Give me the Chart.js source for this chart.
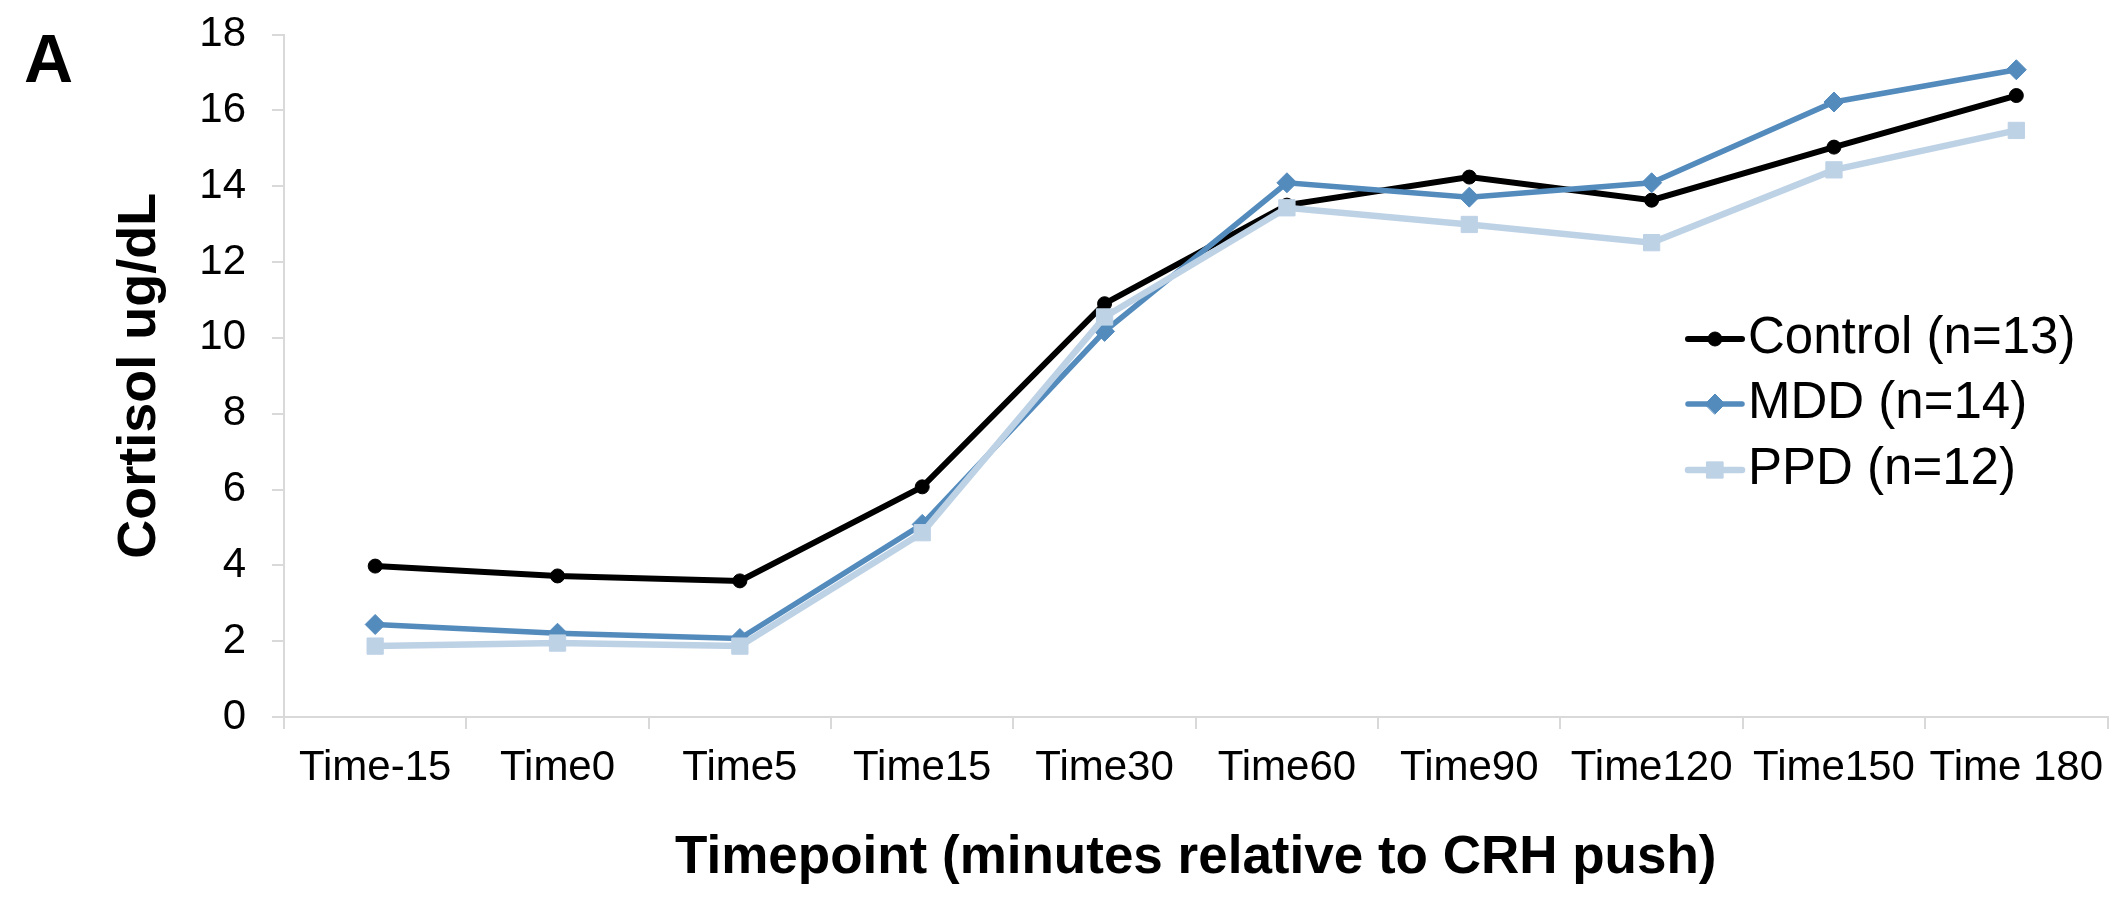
<!DOCTYPE html>
<html>
<head>
<meta charset="utf-8">
<script src="https://cdn.jsdelivr.net/npm/chart.js@4.4.1/dist/chart.umd.min.js"></script>
<style>
  html, body { margin: 0; padding: 0; background: #fff; }
  #chart { display: block; }
</style>
</head>
<body>
<canvas id="chart" width="2120" height="897" style="width:2120px;height:897px"></canvas>
<script>
// data
const timepoints = ['Time-15', 'Time0', 'Time5', 'Time15', 'Time30', 'Time60', 'Time90', 'Time120', 'Time150', 'Time 180'];
const controlValues = [3.98, 3.72, 3.59, 6.07, 10.9, 13.5, 14.24, 13.63, 15.03, 16.39];
const mddValues = [2.44, 2.21, 2.07, 5.08, 10.17, 14.09, 13.71, 14.09, 16.22, 17.07];
const ppdValues = [1.87, 1.95, 1.87, 4.86, 10.55, 13.43, 12.99, 12.51, 14.43, 15.47];
const seriesNames = ['Control (n=13)', 'MDD (n=14)', 'PPD (n=12)'];
const yTicks = [0, 2, 4, 6, 8, 10, 12, 14, 16, 18];

const FONT = '"Liberation Sans", Arial, Helvetica, sans-serif';
const AXIS_GREY = '#d9d9d9';

// legend drawn inside the plot, Excel style (line + marker + text)
const insideLegend = {
    id: 'insideLegend',
    afterDraw(chart) {
        const ctx = chart.ctx;
        const lineX0 = 1688, lineX1 = 1742, textX = 1748;
        const rowY = [339, 404, 470];
        ctx.save();
        chart.data.datasets.forEach((ds, i) => {
            const y = rowY[i];
            ctx.strokeStyle = ds.borderColor;
            ctx.lineWidth = ds.borderWidth;
            ctx.lineCap = 'round';
            ctx.beginPath();
            ctx.moveTo(lineX0, y);
            ctx.lineTo(lineX1, y);
            ctx.stroke();
            ctx.fillStyle = ds.pointBackgroundColor;
            ctx.strokeStyle = ds.pointBorderColor;
            ctx.lineWidth = 1;
            Chart.helpers.drawPoint(ctx, {
                pointStyle: ds.pointStyle,
                radius: ds.pointRadius,
                rotation: 0,
                borderWidth: 1
            }, (lineX0 + lineX1) / 2, y);
            ctx.fillStyle = '#000';
            ctx.font = '51px ' + FONT;
            ctx.textAlign = 'left';
            ctx.textBaseline = 'middle';
            ctx.fillText(ds.label, textX, y);
        });
        ctx.restore();
    }
};

// panel letter in the top-left corner
const panelLetter = {
    id: 'panelLetter',
    afterDraw(chart) {
        const ctx = chart.ctx;
        ctx.save();
        ctx.fillStyle = '#000';
        ctx.font = 'bold 68px ' + FONT;
        ctx.textAlign = 'left';
        ctx.textBaseline = 'alphabetic';
        ctx.fillText('A', 24, 82);
        ctx.restore();
    }
};

const ctx = document.getElementById('chart').getContext('2d');
new Chart(ctx, {
    type: 'line',
    data: {
        labels: timepoints,
        datasets: [
            {
                label: seriesNames[0],
                data: controlValues,
                borderColor: '#000000',
                backgroundColor: '#000000',
                borderWidth: 6,
                pointStyle: 'circle',
                pointRadius: 7,
                pointBackgroundColor: '#000000',
                pointBorderColor: '#000000',
                pointBorderWidth: 1,
                tension: 0,
                order: 2
            },
            {
                label: seriesNames[1],
                data: mddValues,
                borderColor: '#548bbd',
                backgroundColor: '#548bbd',
                borderWidth: 5.5,
                pointStyle: 'rectRot',
                pointRadius: 10,
                pointBackgroundColor: '#548bbd',
                pointBorderColor: '#548bbd',
                pointBorderWidth: 1,
                tension: 0,
                order: 1
            },
            {
                label: seriesNames[2],
                data: ppdValues,
                borderColor: '#bed2e6',
                backgroundColor: '#bed2e6',
                borderWidth: 6.5,
                pointStyle: 'rect',
                pointRadius: 11.5,
                pointBackgroundColor: '#bed2e6',
                pointBorderColor: '#bed2e6',
                pointBorderWidth: 1,
                tension: 0,
                order: 0
            }
        ]
    },
    options: {
        responsive: false,
        devicePixelRatio: 1,
        animation: false,
        layout: {
            padding: { left: 0, right: 7, top: 34.5, bottom: 0 }
        },
        plugins: {
            legend: { display: false },
            tooltip: { enabled: false }
        },
        scales: {
            x: {
                type: 'category',
                offset: true,
                afterFit: (scale) => {
                    scale.height = 180;
                    scale.paddingLeft = 0;
                    scale.paddingRight = 0;
                },
                grid: {
                    offset: true,
                    drawOnChartArea: false,
                    drawTicks: true,
                    tickLength: 12,
                    color: AXIS_GREY,
                    lineWidth: 2
                },
                border: { display: true, color: AXIS_GREY, width: 2 },
                ticks: {
                    color: '#000',
                    font: { family: FONT, size: 42 },
                    padding: 14,
                    maxRotation: 0,
                    autoSkip: false
                },
                title: {
                    display: true,
                    text: 'Timepoint (minutes relative to CRH push)',
                    color: '#000',
                    font: { family: FONT, size: 53, weight: 'bold' },
                    padding: { top: 0, bottom: 7 }
                }
            },
            y: {
                min: 0,
                max: 18,
                afterFit: (scale) => {
                    scale.width = 284;
                    scale.paddingTop = 0;
                    scale.paddingBottom = 0;
                },
                afterBuildTicks: (scale) => {
                    scale.ticks = yTicks.map(v => ({ value: v }));
                },
                grid: {
                    drawOnChartArea: false,
                    drawTicks: true,
                    tickLength: 12,
                    color: AXIS_GREY,
                    lineWidth: 2
                },
                border: { display: true, color: AXIS_GREY, width: 2 },
                ticks: {
                    color: '#000',
                    font: { family: FONT, size: 42 },
                    padding: 26
                },
                title: {
                    display: true,
                    text: 'Cortisol ug/dL',
                    color: '#000',
                    font: { family: FONT, size: 54, weight: 'bold' },
                    padding: { top: 108, bottom: 0 }
                }
            }
        }
    },
    plugins: [insideLegend, panelLetter]
});
</script>
</body>
</html>
